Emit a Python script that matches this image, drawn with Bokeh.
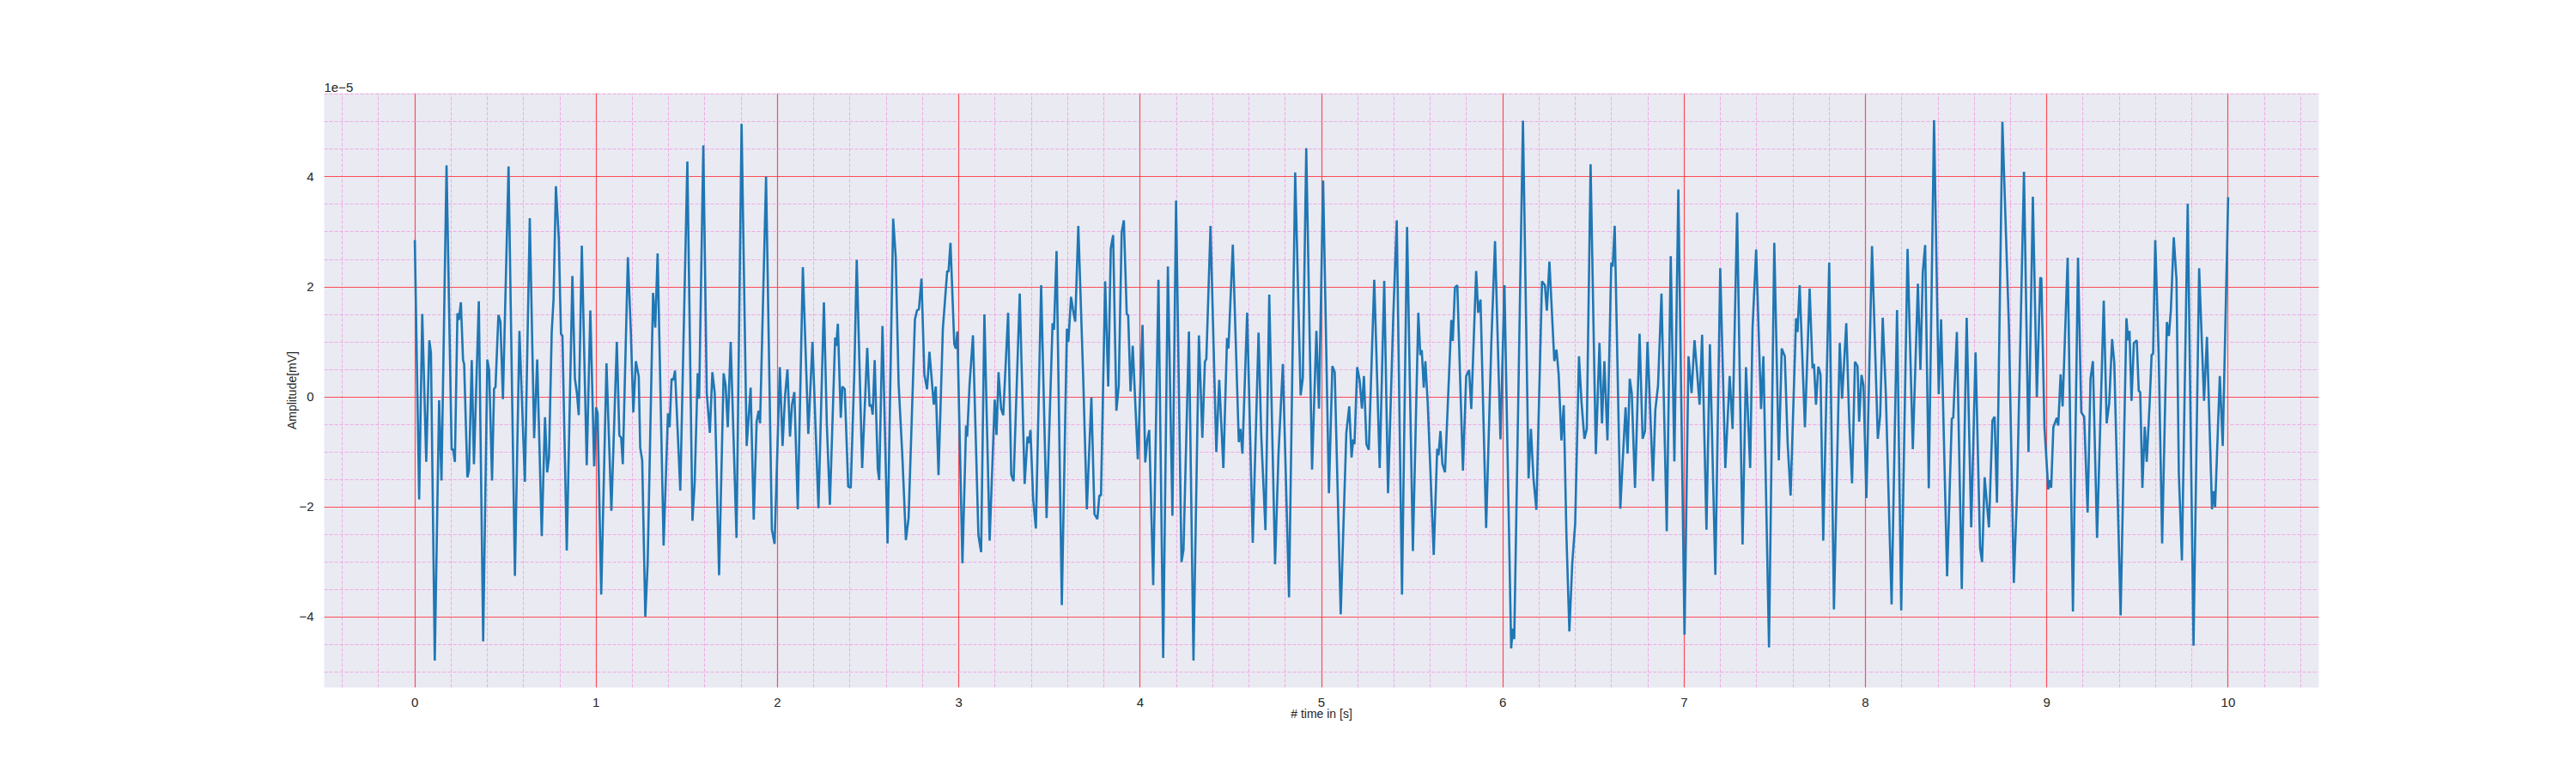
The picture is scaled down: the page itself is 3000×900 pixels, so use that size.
from bokeh.plotting import figure
from bokeh.models import ColumnDataSource, FixedTicker, Range1d
from bokeh.resources import INLINE
from bokeh.embed import file_html

# signal, amplitude in units of 1e-5 mV
t_s = [
    0.000, 0.024, 0.041, 0.063, 0.080, 0.089, 0.110, 0.134, 0.147, 0.175,
    0.203, 0.211, 0.221, 0.235, 0.243, 0.254, 0.266, 0.272, 0.290, 0.299,
    0.314, 0.326, 0.353, 0.377, 0.400, 0.410, 0.426, 0.437, 0.445, 0.461,
    0.472, 0.486, 0.517, 0.552, 0.577, 0.607, 0.634, 0.658, 0.675, 0.700,
    0.718, 0.730, 0.740, 0.755, 0.765, 0.778, 0.794, 0.806, 0.814, 0.838,
    0.869, 0.883, 0.894, 0.904, 0.921, 0.948, 0.968, 0.989, 1.000, 1.008,
    1.028, 1.057, 1.084, 1.114, 1.128, 1.138, 1.147, 1.175, 1.191, 1.205,
    1.219, 1.235, 1.243, 1.254, 1.271, 1.284, 1.314, 1.326, 1.339, 1.372,
    1.396, 1.405, 1.416, 1.426, 1.435, 1.464, 1.503, 1.531, 1.543, 1.560,
    1.568, 1.591, 1.610, 1.627, 1.641, 1.654, 1.678, 1.703, 1.714, 1.726,
    1.742, 1.774, 1.802, 1.830, 1.852, 1.869, 1.885, 1.896, 1.904, 1.937,
    1.969, 1.984, 2.013, 2.028, 2.042, 2.055, 2.069, 2.080, 2.093, 2.112,
    2.140, 2.170, 2.193, 2.226, 2.256, 2.272, 2.289, 2.318, 2.324, 2.333,
    2.349, 2.358, 2.371, 2.390, 2.404, 2.424, 2.437, 2.467, 2.495, 2.508,
    2.517, 2.525, 2.536, 2.553, 2.561, 2.579, 2.607, 2.638, 2.652, 2.668,
    2.689, 2.708, 2.723, 2.758, 2.770, 2.780, 2.794, 2.810, 2.825, 2.838,
    2.862, 2.873, 2.888, 2.912, 2.936, 2.943, 2.954, 2.975, 2.983, 2.992,
    3.020, 3.040, 3.046, 3.059, 3.078, 3.108, 3.123, 3.141, 3.170, 3.198,
    3.208, 3.219, 3.233, 3.245, 3.272, 3.289, 3.302, 3.336, 3.363, 3.379,
    3.387, 3.395, 3.410, 3.425, 3.454, 3.484, 3.517, 3.525, 3.539, 3.568,
    3.596, 3.604, 3.619, 3.630, 3.642, 3.659, 3.686, 3.706, 3.731, 3.748,
    3.764, 3.775, 3.784, 3.807, 3.824, 3.838, 3.851, 3.869, 3.882, 3.898,
    3.910, 3.926, 3.934, 3.947, 3.959, 3.987, 4.013, 4.028, 4.039, 4.050,
    4.072, 4.101, 4.127, 4.153, 4.178, 4.198, 4.228, 4.239, 4.269, 4.294,
    4.324, 4.343, 4.357, 4.365, 4.388, 4.420, 4.436, 4.459, 4.479, 4.487,
    4.511, 4.544, 4.553, 4.564, 4.590, 4.621, 4.653, 4.668, 4.691, 4.712,
    4.744, 4.763, 4.787, 4.821, 4.855, 4.885, 4.897, 4.916, 4.948, 4.972,
    4.986, 5.009, 5.041, 5.060, 5.073, 5.106, 5.137, 5.153, 5.166, 5.175,
    5.182, 5.197, 5.210, 5.223, 5.234, 5.248, 5.261, 5.291, 5.321, 5.346,
    5.367, 5.395, 5.415, 5.444, 5.472, 5.504, 5.534, 5.545, 5.553, 5.564,
    5.573, 5.586, 5.619, 5.638, 5.645, 5.656, 5.667, 5.681, 5.716, 5.724,
    5.736, 5.749, 5.780, 5.798, 5.814, 5.826, 5.853, 5.864, 5.877, 5.908,
    5.937, 5.957, 5.987, 6.009, 6.046, 6.055, 6.063, 6.111, 6.142, 6.155,
    6.169, 6.185, 6.216, 6.232, 6.243, 6.257, 6.284, 6.296, 6.308, 6.323,
    6.336, 6.351, 6.367, 6.383, 6.399, 6.420, 6.434, 6.450, 6.463, 6.484,
    6.513, 6.533, 6.547, 6.560, 6.577, 6.598, 6.606, 6.617, 6.648, 6.662,
    6.677, 6.688, 6.700, 6.711, 6.729, 6.754, 6.771, 6.784, 6.798, 6.828,
    6.841, 6.856, 6.875, 6.904, 6.926, 6.946, 6.968, 7.002, 7.024, 7.041,
    7.057, 7.069, 7.085, 7.099, 7.123, 7.142, 7.172, 7.199, 7.227, 7.251,
    7.267, 7.292, 7.322, 7.341, 7.364, 7.377, 7.397, 7.424, 7.437, 7.468,
    7.497, 7.522, 7.538, 7.555, 7.571, 7.587, 7.617, 7.625, 7.637, 7.666,
    7.692, 7.708, 7.716, 7.727, 7.740, 7.752, 7.767, 7.800, 7.826, 7.858,
    7.871, 7.894, 7.910, 7.926, 7.942, 7.956, 7.965, 7.978, 7.989, 8.005,
    8.036, 8.068, 8.081, 8.095, 8.112, 8.144, 8.174, 8.197, 8.232, 8.261,
    8.289, 8.303, 8.316, 8.329, 8.349, 8.378, 8.404, 8.417, 8.450, 8.476,
    8.484, 8.504, 8.531, 8.558, 8.583, 8.607, 8.632, 8.643, 8.657, 8.681,
    8.700, 8.712, 8.725, 8.755, 8.791, 8.818, 8.836, 8.874, 8.899, 8.923,
    8.945, 8.964, 8.970, 8.987, 9.008, 9.016, 9.024, 9.036, 9.055, 9.063,
    9.076, 9.087, 9.115, 9.144, 9.172, 9.190, 9.206, 9.225, 9.241, 9.254,
    9.277, 9.314, 9.330, 9.344, 9.360, 9.372, 9.407, 9.439, 9.448, 9.456,
    9.467, 9.480, 9.496, 9.507, 9.515, 9.527, 9.540, 9.551, 9.567, 9.578,
    9.586, 9.598, 9.617, 9.636, 9.662, 9.673, 9.684, 9.700, 9.715, 9.728,
    9.745, 9.777, 9.809, 9.840, 9.855, 9.867, 9.883, 9.911, 9.919, 9.928,
    9.954, 9.970, 10.000,
]
amp_1e5 = [
    2.85, -1.86, 1.51, -1.18, 1.03, 0.80, -4.79, -0.06, -1.52, 4.21,
    -0.96, -0.95, -1.18, 1.52, 1.40, 1.72, 0.67, 0.60, -1.46, -1.33,
    0.67, -1.22, 1.74, -4.44, 0.68, 0.48, -1.52, 0.15, 0.18, 1.49,
    1.37, -0.04, 4.19, -3.25, 1.20, -1.54, 3.25, -0.75, 0.68, -2.53,
    -0.37, -1.37, -1.10, 1.18, 1.77, 3.83, 2.88, 1.15, 1.11, -2.79,
    2.20, 0.33, 0.07, -0.33, 2.75, -1.24, 1.57, -1.26, -0.19, -0.30,
    -3.59, 0.61, -2.07, 1.00, -0.70, -0.74, -1.22, 2.54, 1.22, -0.28,
    0.65, 0.37, -0.92, -1.15, -3.99, -3.03, 1.89, 1.26, 2.61, -2.70,
    -0.30, -0.55, 0.33, 0.31, 0.48, -1.70, 4.28, -2.25, -1.58, 0.43,
    -0.03, 4.57, 0.07, -0.65, 0.45, 0.07, -3.24, 0.43, 0.21, -0.55,
    1.00, -2.56, 4.96, -0.89, 0.17, -2.23, -0.45, -0.25, -0.48, 4.00,
    -2.41, -2.67, 0.54, -0.89, 0.03, 0.50, -0.72, -0.14, 0.09, -2.04,
    2.36, -0.67, 1.00, -2.02, 1.72, -0.48, -1.96, 1.08, 0.93, 1.33,
    -0.38, 0.19, 0.14, -1.63, -1.65, 0.48, 2.49, -1.29, 0.89, -0.17,
    -0.14, -0.32, 0.67, -1.31, -1.51, 1.29, -2.66, 3.24, 2.54, 0.24,
    -1.10, -2.60, -2.20, 1.41, 1.58, 1.59, 2.15, 0.41, 0.14, 0.82,
    -0.14, 0.19, -1.42, 1.24, 2.29, 2.27, 2.80, 0.96, 0.88, 1.19,
    -3.02, -0.52, -0.72, 0.21, 1.12, -2.51, -2.82, 1.50, -2.61, -0.05,
    -0.69, 0.45, -0.21, -0.33, 1.53, -1.41, -1.53, 1.88, -1.58, -0.72,
    -0.84, -0.60, -1.86, -2.39, 2.03, -2.20, 1.34, 1.22, 2.65, -3.78,
    1.24, 1.00, 1.82, 1.58, 1.37, 3.11, 0.34, -2.04, -0.01, -2.13,
    -2.22, -1.79, -1.79, 2.10, 0.19, 2.70, 2.94, -0.25, 0.21, 2.99,
    3.21, 1.51, 1.48, 0.10, 0.93, -1.13, 1.31, -1.19, -0.79, -0.60,
    -3.42, 2.13, -4.74, 2.37, -2.16, 3.57, -3.00, -2.78, 1.19, -4.79,
    1.12, -0.74, 0.64, 0.69, 3.11, -1.00, 0.31, -1.29, 1.07, 0.88,
    2.77, -0.82, -0.58, -1.03, 1.53, -2.65, 1.17, -0.72, -2.42, 1.86,
    -3.04, -1.03, 0.60, -3.64, 4.08, 0.03, 0.34, 4.52, -1.32, 1.20,
    -0.21, 3.93, -1.75, 0.56, 0.45, -3.95, -0.65, -0.17, -1.10, -0.77,
    -0.86, 0.54, 0.31, -0.21, 0.38, -0.86, -0.96, 2.13, -1.29, 2.11,
    -1.75, 1.37, 3.21, -3.59, 3.09, -2.80, 1.53, 0.76, 0.85, 0.17,
    0.65, -0.12, -2.87, -0.94, -1.06, -0.62, -1.22, -1.37, 1.40, 1.02,
    1.99, 2.03, -1.34, 0.38, 0.49, -0.22, 2.29, 1.53, 1.77, -2.38,
    1.02, 2.83, -0.77, 2.03, -4.57, -4.21, -4.40, 5.02, -1.48, -0.58,
    -1.48, -2.05, 2.10, 2.03, 1.57, 2.46, 0.65, 0.86, 0.41, -0.79,
    -0.15, -2.54, -4.26, -3.02, -2.30, 0.74, -0.10, -0.76, -0.58, 4.23,
    -1.04, 0.98, -0.48, 0.65, -0.79, 2.44, 2.37, 3.11, -2.03, -1.10,
    -0.19, -1.03, 0.33, 0.07, -1.65, 1.15, -0.76, -0.62, 1.00, -1.53,
    -0.24, 0.21, 1.88, -2.44, 2.56, -1.17, 3.77, -4.32, 0.74, 0.07,
    1.03, 0.55, -0.14, 1.13, -2.41, 0.96, -3.23, 2.34, -1.29, 0.38,
    -0.58, 3.35, -2.68, 0.54, -1.29, 1.24, 2.68, -0.22, 0.74, -4.55,
    2.80, -1.15, 0.88, 0.74, -0.86, -1.79, 1.43, 1.18, 2.03, -0.55,
    1.97, 0.52, 0.60, -0.14, 0.55, 0.41, -2.61, 2.44, -3.86, 0.98,
    -0.03, 1.34, -0.41, -1.57, 0.64, 0.56, -0.45, 0.40, 0.21, -1.84,
    2.74, -0.76, -0.34, 1.44, 0.07, -3.77, 1.58, -3.88, 2.69, -0.95,
    2.06, 0.49, 2.27, 2.76, -1.66, 5.03, 0.05, 1.41, -3.26, -0.39,
    -0.38, 1.18, -3.49, 1.44, -2.37, 0.81, -2.74, -3.00, -1.46, -2.37,
    -0.43, -0.36, -1.92, 5.00, 1.27, -3.38, -1.72, 4.09, -1.00, 3.64,
    0.00, 2.17, 2.15, -0.55, -1.68, -1.51, -1.65, -0.55, -0.38, -0.52,
    0.41, -0.17, 2.53, -3.90, 2.53, -0.28, -0.36, -2.10, 0.34, 0.65,
    -2.56, 1.75, -0.48, -0.11, 1.05, 0.62, -3.97, 1.43, 1.03, 1.20,
    -0.07, 0.98, 1.03, 0.11, 0.09, -1.65, -0.54, -1.18, -0.11, 0.77,
    0.78, 2.85, 0.75, -2.66, 1.36, 1.11, 1.57, 2.90, 2.14, -1.39,
    -2.97, 3.51, -4.52, 2.34, 0.99, -0.07, 1.09, -2.04, -1.71, -2.00,
    0.38, -0.89, 3.63,
]

x_ticks = list(range(0, 11))
x_minor = [round(-0.4 + 0.2 * i, 1) for i in range(55)]
y_ticks = [-4, -2, 0, 2, 4]
y_minor = [-5 + 0.5 * i for i in range(22)]
y_labels = {-4: "\u22124", -2: "\u22122", 0: "0", 2: "2", 4: "4"}

src = ColumnDataSource(data=dict(t=t_s, a=amp_1e5))

p = figure(width=2984, height=884, output_backend="svg", toolbar_location=None,
           x_range=Range1d(-0.5, 10.5), y_range=Range1d(-5.28, 5.52),
           min_border_left=377, min_border_right=284,
           min_border_top=108, min_border_bottom=84)
p.background_fill_color = "#EAEAF2"
p.border_fill_color = "white"
p.outline_line_color = None

p.line("t", "a", source=src, line_color="#1f77b4", line_width=2.6)

p.xaxis.ticker = FixedTicker(ticks=x_ticks, minor_ticks=x_minor)
p.yaxis.ticker = FixedTicker(ticks=y_ticks, minor_ticks=y_minor)
p.yaxis.major_label_overrides = y_labels

for ax in (p.xaxis, p.yaxis):
    ax.axis_line_color = None
    ax.major_tick_line_color = None
    ax.minor_tick_line_color = None
    ax.major_label_text_font = "Liberation Sans"
    ax.major_label_text_font_size = "15px"
    ax.major_label_text_color = "#262626"
    ax.axis_label_text_font = "Liberation Sans"
    ax.axis_label_text_font_size = "14px"
    ax.axis_label_text_font_style = "normal"
    ax.axis_label_text_color = "#262626"
    ax.major_label_standoff = 6
    ax.axis_label_standoff = -3

p.xaxis.axis_label = "# time in [s]"
p.yaxis.axis_label = "Amplitude[mV]"

for g in (p.xgrid, p.ygrid):
    g.grid_line_color = "#FF3030"
    g.grid_line_alpha = 0.8
    g.grid_line_width = 1.2
    g.minor_grid_line_color = "#F09BE0"
    g.minor_grid_line_alpha = 0.8
    g.minor_grid_line_width = 1
    g.minor_grid_line_dash = "4 2"

# offset text of the y axis, as matplotlib puts it above the axes
p.title.text = "1e\u22125"
p.title.align = "left"
p.title.text_font = "Liberation Sans"
p.title.text_font_size = "15px"
p.title.text_font_style = "normal"
p.title.text_color = "#262626"
p.title.standoff = 4

open("out.html", "w").write(file_html(p, INLINE))
